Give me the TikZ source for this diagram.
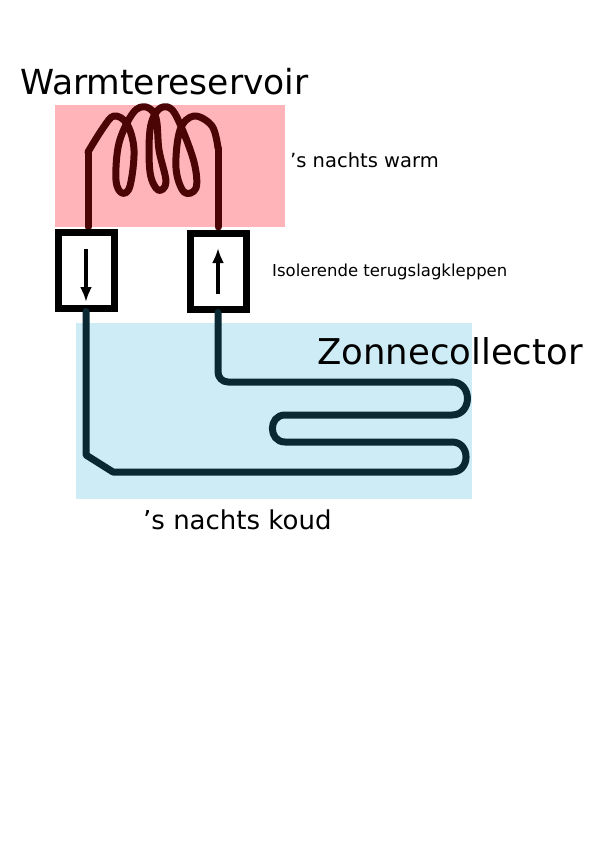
\documentclass[tikz,border=0pt]{standalone}
\usepackage{fontspec}
\setmainfont{DejaVu Sans}
\usetikzlibrary{arrows.meta}
\definecolor{pinkbg}{RGB}{255,180,185}
\definecolor{bluebg}{RGB}{205,236,246}
\definecolor{redpipe}{RGB}{75,5,5}
\definecolor{bluepipe}{RGB}{10,40,50}
\begin{document}
\begin{tikzpicture}[x=1pt,y=-1pt,
  pipeR/.style={line width=7pt,draw=redpipe,line join=round,line cap=round},
  pipeB/.style={line width=7pt,draw=bluepipe,line join=round,line cap=round},
  valve/.style={draw=black,line width=7pt,fill=white,minimum width=56pt,minimum height=76pt,inner sep=0pt},
  lbl/.style={anchor=base west,inner sep=0pt}]
\useasboundingbox (0,0) rectangle (600,848);
\fill[white] (0,0) rectangle (600,848);
\fill[pinkbg] (55,105) rectangle (285,227);
\fill[bluebg] (76,323) rectangle (472,499);
\coordinate (c1) at (88,227);
\coordinate (c2) at (218,227);
\draw[pipeR] plot[smooth,tension=0.6] coordinates {(88,152) (103,128) (114,116) (127,124) (134,150) (130,186) (122,193) (116,180) (119,143) (133,113) (146,107) (156,118) (159,150) (166,182) (158,190) (150,172) (150,130) (158,110) (170,108) (180,124) (194,162) (196,188) (184,192) (176,168) (180,130) (194,116) (212,126) (218,148)};
\draw[pipeR] (c1) -- (88,152);
\draw[pipeR] (c2) -- (218,148);
\node[valve] (v1) at (86,270) {};
\node[valve] (v2) at (218,271) {};
\draw[-{Latex[length=15pt,width=12pt]},line width=4.5pt] (86,249) -- (86,302);
\draw[-{Latex[length=15pt,width=12pt]},line width=4.5pt] (218,294) -- (218,248);
\draw[pipeB,rounded corners=10pt] (v2.south) -- (218,382) -- (452,382);
\draw[pipeB] (452,382) to[out=0,in=0,looseness=1.6] (452,415) -- (285,415) to[out=180,in=180,looseness=1.6] (285,442) -- (452,442) to[out=0,in=0,looseness=1.6] (452,472) -- (113,472) -- (86,455) -- (v1.south);
\node[lbl,font=\fontsize{34.5}{34.5}\selectfont] (t1) at (20,95) {Warmtereservoir};
\node[lbl,font=\fontsize{19.5}{19.5}\selectfont] (t2) at (290,167) {\symbol{39}s nachts warm};
\node[lbl,font=\fontsize{16.5}{16.5}\selectfont] (t3) at (272,276) {Isolerende terugslagkleppen};
\node[lbl,font=\fontsize{35.5}{35.5}\selectfont] (t4) at (317,364) {Zonnecollector};
\node[lbl,font=\fontsize{26}{26}\selectfont] (t5) at (143,529) {\symbol{39}s nachts koud};
\end{tikzpicture}
\end{document}
